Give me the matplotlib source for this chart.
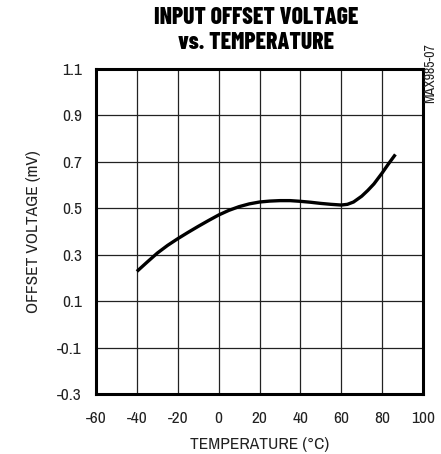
import numpy as np
import matplotlib.pyplot as plt

# offset voltage vs temperature
temp_c = [-40, -35, -30, -25, -20, -15, -10, -5, 0, 5, 10, 15, 20, 25, 30, 35, 40,
          45, 50, 55, 60, 63, 66, 70, 73, 76, 80, 83, 86.5]
offset_mv = [0.228, 0.268, 0.307, 0.340, 0.369, 0.396, 0.422, 0.447, 0.471, 0.491,
             0.507, 0.519, 0.527, 0.531, 0.533, 0.533, 0.530, 0.526, 0.521, 0.517,
             0.514, 0.517, 0.527, 0.552, 0.577, 0.605, 0.652, 0.690, 0.732]

x_ticks = [-60, -40, -20, 0, 20, 40, 60, 80, 100]
y_ticks = [-0.3, -0.1, 0.1, 0.3, 0.5, 0.7, 0.9, 1.1]
y_labels = ['-0.3', '-0.1', '0.1', '0.3', '0.5', '0.7', '0.9', '1.1']

plt.rcParams['font.family'] = ['Archivo Narrow', 'Liberation Sans Narrow', 'DejaVu Sans']
plt.rcParams['axes.unicode_minus'] = False

fig = plt.figure(figsize=(4.41, 4.54), dpi=100)
ax = fig.add_axes([96/441, 60/454, 327/441, 325/454])

ax.plot(temp_c, offset_mv, color='black', lw=2.4, solid_capstyle='butt',
        solid_joinstyle='round', zorder=3)

ax.set_xlim(-60, 100)
ax.set_ylim(-0.3, 1.1)
ax.set_xticks(x_ticks)
ax.set_yticks(y_ticks)
ax.set_yticklabels(y_labels)
ax.tick_params(length=0, labelsize=12.5, labelcolor='#222222')
ax.tick_params(axis='x', pad=12)
ax.tick_params(axis='y', pad=10)
ax.grid(True, color='#222222', lw=0.9)
for sp in ax.spines.values():
    sp.set_linewidth(2.2)

ax.set_xlabel('TEMPERATURE (°C)', fontsize=12.5, labelpad=8, color='#222222')
ax.set_ylabel('OFFSET VOLTAGE (mV)', fontsize=12.5, labelpad=12, color='#222222')

fig.text(0.5805, 0.882, 'INPUT OFFSET VOLTAGE\nvs. TEMPERATURE', ha='center', va='bottom',
         fontsize=17, fontweight='heavy', linespacing=1.18,
         family=['Barlow Condensed', 'Archivo Narrow', 'DejaVu Sans'])
fig.text(0.976, 0.905, 'MAX985-07', rotation=90, ha='center', va='top', fontsize=10,
         color='#222222')

fig.savefig('out.png', dpi=100)
